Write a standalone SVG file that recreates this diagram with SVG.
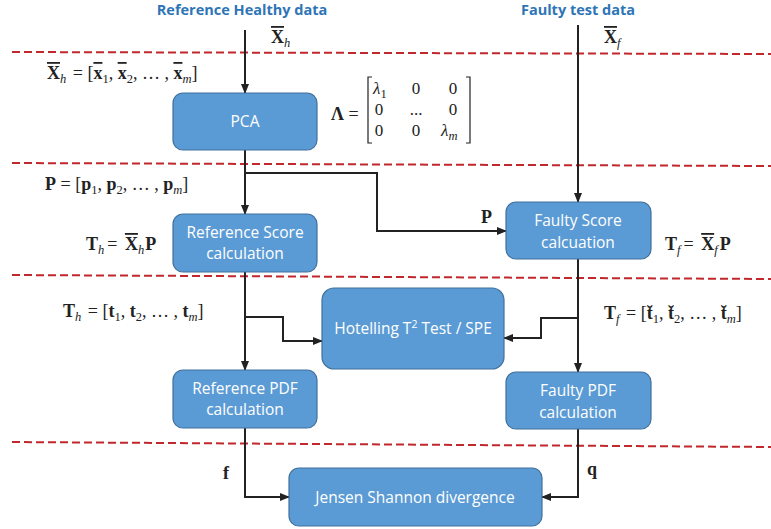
<svg xmlns="http://www.w3.org/2000/svg" width="771" height="529" viewBox="0 0 771 529">
<defs>
<style>
.box{fill:#5B9BD5;stroke:#41719C;stroke-width:1.2}
.bt{font-family:"Open Sans","Liberation Sans",sans-serif;font-size:15.5px;fill:#fff;text-anchor:middle}
.hd{font-family:"Open Sans","Liberation Sans",sans-serif;font-size:14.5px;font-weight:bold;fill:#2E75B6;text-anchor:middle}
.m{font-family:"Liberation Serif","DejaVu Serif",serif;font-size:18px;fill:#222}
.mm{font-family:"Liberation Serif","DejaVu Serif",serif;font-size:17px;fill:#222}
.b{font-weight:bold}
.i{font-style:italic}
.s{font-size:12.5px}
.dash{stroke:#C0282D;stroke-width:2;stroke-dasharray:8 4;fill:none}
.c{stroke:#222;stroke-width:2;fill:none;marker-end:url(#ah)}
</style>
<marker id="ah" viewBox="0 0 10 10" refX="9" refY="5" markerWidth="5" markerHeight="5" orient="auto">
<path d="M0,1 L10,5 L0,9 z" fill="#222"/>
</marker>
</defs>

<g id="separators">
<line class="dash" x1="12" y1="52" x2="771" y2="54"/>
<line class="dash" x1="12" y1="163" x2="771" y2="166"/>
<line class="dash" x1="12" y1="275" x2="771" y2="279"/>
<line class="dash" x1="12" y1="442" x2="771" y2="447"/>
</g>

<g id="connectors">
<path class="c" d="M245,30 V93"/>
<path class="c" d="M578,25 V202"/>
<path class="c" d="M245,150 V214"/>
<path class="c" d="M245,173 H377 V231 H506"/>
<path class="c" d="M245,272 V370"/>
<path class="c" d="M245,317 H283 V341 H322"/>
<path class="c" d="M578,259 V372"/>
<path class="c" d="M578,318 H541 V338 H504"/>
<path class="c" d="M245,428 V497 H289"/>
<path class="c" d="M578,429 V497 H542"/>
</g>

<g id="header-ref"><text class="hd" x="242" y="15">Reference Healthy data</text></g>
<g id="header-faulty"><text class="hd" x="578" y="15">Faulty test data</text></g>

<g id="pca"><rect class="box" x="173" y="93" width="144" height="57" rx="10"/><text class="bt" x="245" y="127">PCA</text></g>
<g id="ref-score"><rect class="box" x="173" y="214" width="144" height="58" rx="10"/><text class="bt" x="245" y="238">Reference Score</text><text class="bt" x="245" y="259">calculation</text></g>
<g id="faulty-score"><rect class="box" x="506" y="202" width="145" height="57" rx="10"/><text class="bt" x="578" y="226">Faulty Score</text><text class="bt" x="578" y="248">calcuation</text></g>
<g id="hotelling"><rect class="box" x="322" y="288" width="182" height="81" rx="12"/><text class="bt" x="413" y="334">Hotelling T<tspan dy="-6" font-size="10.5">2</tspan><tspan dy="6"> Test / SPE</tspan></text></g>
<g id="ref-pdf"><rect class="box" x="173" y="370" width="144" height="58" rx="10"/><text class="bt" x="245" y="394">Reference PDF</text><text class="bt" x="245" y="415">calculation</text></g>
<g id="faulty-pdf"><rect class="box" x="506" y="372" width="145" height="57" rx="10"/><text class="bt" x="578" y="396">Faulty PDF</text><text class="bt" x="578" y="418">calculation</text></g>
<g id="jensen"><rect class="box" x="289" y="468" width="253" height="58" rx="10"/><text class="bt" x="415" y="503">Jensen Shannon divergence</text></g>

<g id="labels">
<text class="m" x="271" y="43"><tspan class="b" text-decoration="overline">X</tspan><tspan class="i s" dy="4">h</tspan></text>
<text class="m" x="604" y="43"><tspan class="b" text-decoration="overline">X</tspan><tspan class="i s" dy="4">f</tspan></text>

<text class="m" x="47" y="79"><tspan class="b" text-decoration="overline">X</tspan><tspan class="i s" dy="4">h</tspan><tspan dy="-4" dx="2"> = [</tspan><tspan class="b" text-decoration="overline">x</tspan><tspan class="s" dy="4">1</tspan><tspan dy="-4">, </tspan><tspan class="b" text-decoration="overline">x</tspan><tspan class="s" dy="4">2</tspan><tspan dy="-4">, … , </tspan><tspan class="b" text-decoration="overline">x</tspan><tspan class="i s" dy="4">m</tspan><tspan dy="-4">]</tspan></text>

<text class="m" x="331" y="120"><tspan class="b">Λ</tspan> =</text>
<path d="M372,77 H368 V143 H372 M466,77 H470 V143 H466" stroke="#222" stroke-width="1.2" fill="none"/>
<text class="mm" x="373" y="94"><tspan class="i">λ</tspan><tspan class="s" dy="4">1</tspan></text>
<text class="mm" x="416" y="94" text-anchor="middle">0</text>
<text class="mm" x="453" y="94" text-anchor="middle">0</text>
<text class="mm" x="379" y="115" text-anchor="middle">0</text>
<text class="mm" x="416" y="115" text-anchor="middle">...</text>
<text class="mm" x="453" y="115" text-anchor="middle">0</text>
<text class="mm" x="379" y="136" text-anchor="middle">0</text>
<text class="mm" x="416" y="136" text-anchor="middle">0</text>
<text class="mm" x="441" y="136"><tspan class="i">λ</tspan><tspan class="i s" dy="4">m</tspan></text>

<text class="m" x="45" y="190"><tspan class="b">P</tspan> = [<tspan class="b">p</tspan><tspan class="s" dy="4">1</tspan><tspan dy="-4">, </tspan><tspan class="b">p</tspan><tspan class="s" dy="4">2</tspan><tspan dy="-4">, … , </tspan><tspan class="b">p</tspan><tspan class="i s" dy="4">m</tspan><tspan dy="-4">]</tspan></text>

<text class="m b" x="481" y="223">P</text>

<text class="m" x="86" y="250"><tspan class="b">T</tspan><tspan class="i s" dy="4">h</tspan><tspan dy="-4" dx="3">= </tspan><tspan class="b" text-decoration="overline" dx="3">X</tspan><tspan class="i s" dy="4">h</tspan><tspan class="b" dy="-4" dx="1">P</tspan></text>
<text class="m" x="665" y="250"><tspan class="b">T</tspan><tspan class="i s" dy="4">f</tspan><tspan dy="-4" dx="3">= </tspan><tspan class="b" text-decoration="overline" dx="3">X</tspan><tspan class="i s" dy="4">f</tspan><tspan class="b" dy="-4" dx="2">P</tspan></text>

<text class="m" x="63" y="317"><tspan class="b">T</tspan><tspan class="i s" dy="4">h</tspan><tspan dy="-4" dx="2"> = [</tspan><tspan class="b">t</tspan><tspan class="s" dy="4">1</tspan><tspan dy="-4">, </tspan><tspan class="b">t</tspan><tspan class="s" dy="4">2</tspan><tspan dy="-4">, … , </tspan><tspan class="b">t</tspan><tspan class="i s" dy="4">m</tspan><tspan dy="-4">]</tspan></text>
<text class="m" x="604" y="319"><tspan class="b">T</tspan><tspan class="i s" dy="4">f</tspan><tspan dy="-4" dx="2"> = [</tspan><tspan class="b">t&#x306;</tspan><tspan class="s" dy="4">1</tspan><tspan dy="-4">, </tspan><tspan class="b">t&#x306;</tspan><tspan class="s" dy="4">2</tspan><tspan dy="-4">, … , </tspan><tspan class="b">t&#x306;</tspan><tspan class="i s" dy="4">m</tspan><tspan dy="-4">]</tspan></text>

<text class="m b" x="223" y="479">f</text>
<text class="m b" x="587" y="475">q</text>
</g>
</svg>
